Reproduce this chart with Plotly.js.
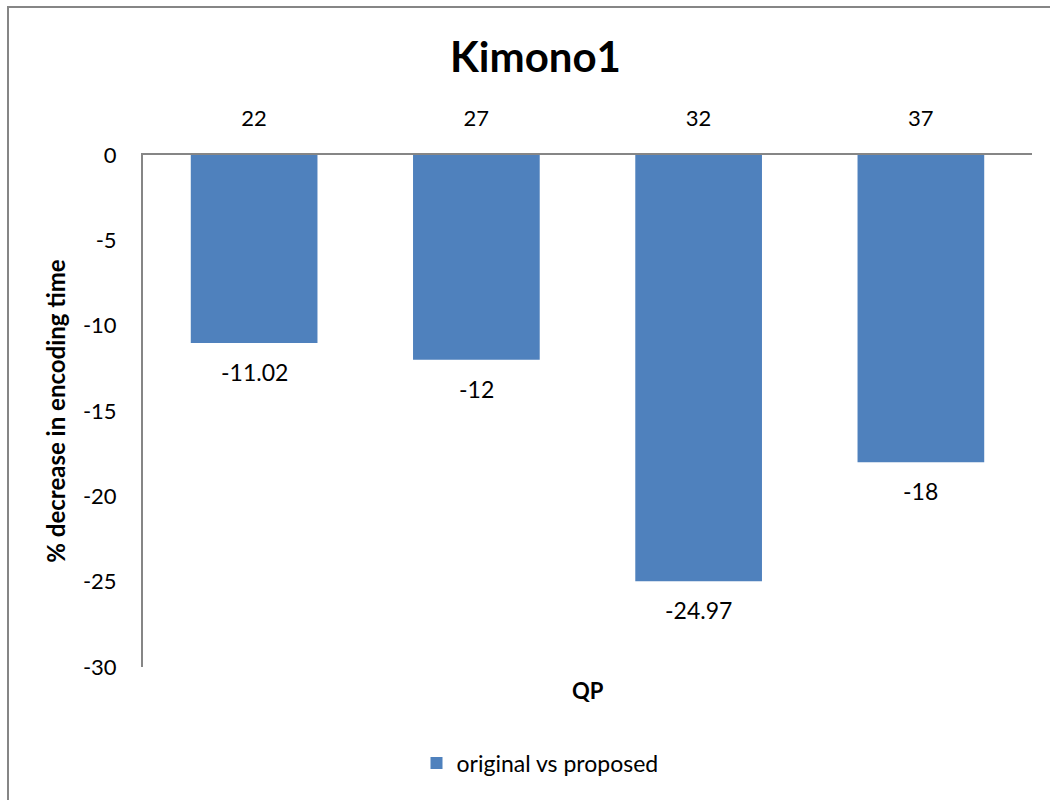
<!DOCTYPE html>
<html>
<head>
<meta charset="utf-8">
<script src="https://cdn.plot.ly/plotly-3.0.1.min.js"></script>
<style>
  html, body { margin: 0; padding: 0; overflow: hidden; background: #fff; }
  #chart { width: 1050px; height: 800px; }
  #frame {
    position: absolute; left: 7px; top: 6px; width: 1100px; height: 900px;
    border-left: 2px solid #868686; border-top: 2px solid #868686;
    pointer-events: none;
  }
</style>
</head>
<body>
<div id="chart"></div>
<div id="frame"></div>
<script>
// QP settings and the change in encoding time for each
const qpLabels = ['22', '27', '32', '37'];
const timeChange = [-11.02, -12, -24.97, -18];
const seriesName = 'original vs proposed';
// y tick labels written with a plain hyphen
const yTickVals = [0, -5, -10, -15, -20, -25, -30];
const yTickText = ['0', '-5', '-10', '-15', '-20', '-25', '-30'];

const FONT = 'Lato, "Open Sans", sans-serif';

const trace = {
  type: 'bar',
  x: qpLabels,
  y: timeChange,
  name: seriesName,
  marker: { color: '#4F81BD' },
  showlegend: true,
  hoverinfo: 'x+y'
};

// value labels under the end of each bar (x given as the category index)
const valueLabels = qpLabels.map((qp, i) => ({
  x: i,
  y: timeChange[i],
  xref: 'x', yref: 'y',
  text: String(timeChange[i]),
  showarrow: false,
  xanchor: 'center', yanchor: 'middle',
  yshift: -29,
  font: { family: FONT, size: 23, color: '#000' }
}));

const layout = {
  width: 1050,
  height: 800,
  margin: { l: 143, r: 18, t: 155, b: 133 },
  paper_bgcolor: '#fff',
  plot_bgcolor: '#fff',
  font: { family: FONT, size: 22, color: '#000' },
  title: {
    text: '<b>Kimono1</b>',
    font: { family: FONT, size: 42, color: '#000' },
    xref: 'container', x: 0.51, xanchor: 'center',
    yref: 'container', y: 1 - 57 / 800, yanchor: 'middle'
  },
  bargap: 0.43,
  xaxis: {
    type: 'category',
    categoryorder: 'array',
    categoryarray: qpLabels,
    range: [-0.5, qpLabels.length - 0.5],
    side: 'top',
    showline: true,
    linecolor: '#868686',
    linewidth: 2,
    ticks: '',
    ticklabelstandoff: 18,
    tickfont: { family: FONT, size: 22, color: '#000' },
    showgrid: false,
    zeroline: false
  },
  yaxis: {
    range: [-30, 0],
    tickmode: 'array',
    tickvals: yTickVals,
    ticktext: yTickText,
    showline: true,
    linecolor: '#868686',
    linewidth: 2,
    ticks: '',
    ticklabelstandoff: 20,
    showgrid: false,
    zeroline: false,
    tickfont: { family: FONT, size: 22, color: '#000' },
    title: {
      text: '<b>% decrease in encoding time</b>',
      font: { family: FONT, size: 24, color: '#000' },
      standoff: 10
    }
  },
  annotations: valueLabels.concat([{
    text: '<b>QP</b>',
    xref: 'paper', yref: 'paper',
    x: 0.5, y: -23 / 512,
    xanchor: 'center', yanchor: 'middle',
    showarrow: false,
    font: { family: FONT, size: 22, color: '#000' }
  }]),
  showlegend: true,
  legend: {
    orientation: 'h',
    xref: 'container', yref: 'container',
    x: 540 / 1050, xanchor: 'center',
    y: 1 - 763 / 800, yanchor: 'middle',
    font: { family: FONT, size: 23, color: '#000' },
    itemwidth: 30
  }
};

Plotly.newPlot('chart', [trace], layout, { displayModeBar: false, staticPlot: true });
</script>
</body>
</html>
